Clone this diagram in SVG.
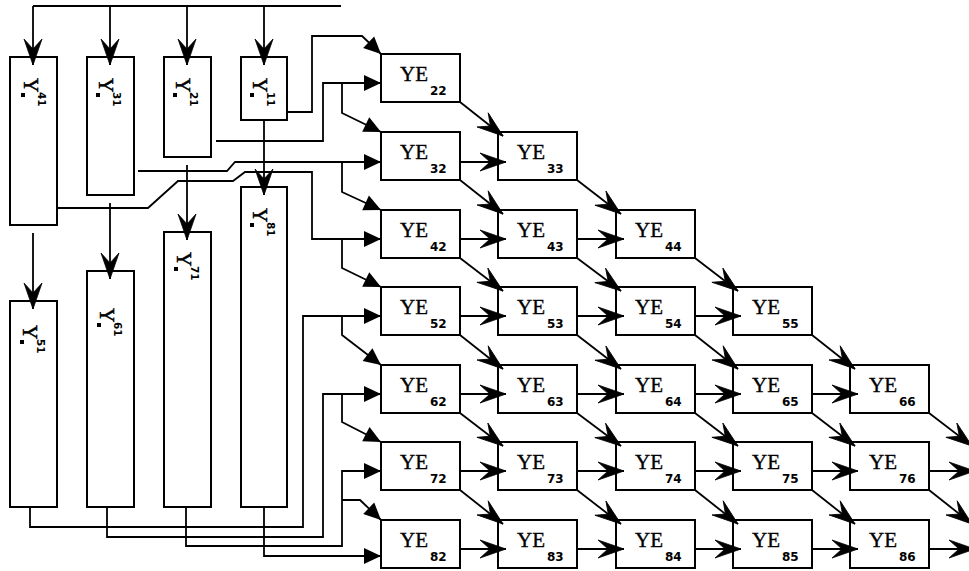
<svg xmlns="http://www.w3.org/2000/svg" width="969" height="571" viewBox="0 0 969 571">
<style>
.box{fill:#fff;stroke:#000;stroke-width:2}
.c{fill:none;stroke:#000;stroke-width:1.8}
.b{marker-end:url(#barb)}
.t{marker-end:url(#tri)}
.ye{font-family:"Liberation Serif",serif;font-size:21px;fill:#000;stroke:#000;stroke-width:0.35}
.sub{font-family:"DejaVu Sans",sans-serif;font-weight:bold;font-size:12px;fill:#000}
.y{font-family:"Liberation Serif",serif;font-size:20px;fill:#000;stroke:#000;stroke-width:0.5}
.sup{font-family:"DejaVu Sans",sans-serif;font-weight:bold;font-size:10.5px;fill:#000}
</style>
<defs>
<marker id="barb" markerUnits="userSpaceOnUse" viewBox="-28 -11 30 22" refX="0" refY="0" markerWidth="30" markerHeight="22" orient="auto" overflow="visible">
<path d="M0,0 L-26,-9 L-16,0 L-26,9Z" fill="#000" stroke="#000" stroke-width="0.8" stroke-linejoin="miter"/>
</marker>
<marker id="tri" markerUnits="userSpaceOnUse" viewBox="-18 -9 19 18" refX="0" refY="0" markerWidth="19" markerHeight="18" orient="auto" overflow="visible">
<path d="M0,0 L-17,-8 L-17,8Z" fill="#000"/>
</marker>
</defs>

<g id="Y41"><rect class="box" x="10" y="57" width="47" height="168"/><g transform="translate(24,78) rotate(90)"><text class="y" x="0" y="0">Y</text><rect x="15" y="-1" width="4" height="4"/><text class="sup" x="14" y="-14">41</text></g></g>
<g id="Y31"><rect class="box" x="87" y="57" width="47" height="138"/><g transform="translate(99,78) rotate(90)"><text class="y" x="0" y="0">Y</text><rect x="15" y="-1" width="4" height="4"/><text class="sup" x="14" y="-14">31</text></g></g>
<g id="Y21"><rect class="box" x="164" y="57" width="47" height="100"/><g transform="translate(176,78) rotate(90)"><text class="y" x="0" y="0">Y</text><rect x="15" y="-1" width="4" height="4"/><text class="sup" x="14" y="-14">21</text></g></g>
<g id="Y11"><rect class="box" x="241" y="57" width="46" height="63"/><g transform="translate(253,78) rotate(90)"><text class="y" x="0" y="0">Y</text><rect x="15" y="-1" width="4" height="4"/><text class="sup" x="14" y="-14">11</text></g></g>
<g id="Y51"><rect class="box" x="10" y="301" width="47" height="206"/><g transform="translate(23,325) rotate(90)"><text class="y" x="0" y="0">Y</text><rect x="15" y="-1" width="4" height="4"/><text class="sup" x="14" y="-14">51</text></g></g>
<g id="Y61"><rect class="box" x="87" y="271" width="47" height="236"/><g transform="translate(100,308) rotate(90)"><text class="y" x="0" y="0">Y</text><rect x="15" y="-1" width="4" height="4"/><text class="sup" x="14" y="-14">61</text></g></g>
<g id="Y71"><rect class="box" x="164" y="232" width="47" height="275"/><g transform="translate(177,252) rotate(90)"><text class="y" x="0" y="0">Y</text><rect x="15" y="-1" width="4" height="4"/><text class="sup" x="14" y="-14">71</text></g></g>
<g id="Y81"><rect class="box" x="241" y="187" width="46" height="320"/><g transform="translate(253,208) rotate(90)"><text class="y" x="0" y="0">Y</text><rect x="15" y="-1" width="4" height="4"/><text class="sup" x="14" y="-14">81</text></g></g>

<g id="YE22"><rect class="box" x="381" y="54" width="79" height="48"/><text class="ye" x="400" y="81">YE</text><text class="sub" x="430" y="95">22</text></g>
<g id="YE32"><rect class="box" x="381" y="132" width="79" height="48"/><text class="ye" x="400" y="159">YE</text><text class="sub" x="430" y="173">32</text></g>
<g id="YE33"><rect class="box" x="498" y="132" width="79" height="48"/><text class="ye" x="517" y="159">YE</text><text class="sub" x="547" y="173">33</text></g>
<g id="YE42"><rect class="box" x="381" y="210" width="79" height="48"/><text class="ye" x="400" y="237">YE</text><text class="sub" x="430" y="251">42</text></g>
<g id="YE43"><rect class="box" x="498" y="210" width="79" height="48"/><text class="ye" x="517" y="237">YE</text><text class="sub" x="547" y="251">43</text></g>
<g id="YE44"><rect class="box" x="616" y="210" width="79" height="48"/><text class="ye" x="635" y="237">YE</text><text class="sub" x="665" y="251">44</text></g>
<g id="YE52"><rect class="box" x="381" y="287" width="79" height="48"/><text class="ye" x="400" y="314">YE</text><text class="sub" x="430" y="328">52</text></g>
<g id="YE53"><rect class="box" x="498" y="287" width="79" height="48"/><text class="ye" x="517" y="314">YE</text><text class="sub" x="547" y="328">53</text></g>
<g id="YE54"><rect class="box" x="616" y="287" width="79" height="48"/><text class="ye" x="635" y="314">YE</text><text class="sub" x="665" y="328">54</text></g>
<g id="YE55"><rect class="box" x="733" y="287" width="79" height="48"/><text class="ye" x="752" y="314">YE</text><text class="sub" x="782" y="328">55</text></g>
<g id="YE62"><rect class="box" x="381" y="365" width="79" height="48"/><text class="ye" x="400" y="392">YE</text><text class="sub" x="430" y="406">62</text></g>
<g id="YE63"><rect class="box" x="498" y="365" width="79" height="48"/><text class="ye" x="517" y="392">YE</text><text class="sub" x="547" y="406">63</text></g>
<g id="YE64"><rect class="box" x="616" y="365" width="79" height="48"/><text class="ye" x="635" y="392">YE</text><text class="sub" x="665" y="406">64</text></g>
<g id="YE65"><rect class="box" x="733" y="365" width="79" height="48"/><text class="ye" x="752" y="392">YE</text><text class="sub" x="782" y="406">65</text></g>
<g id="YE66"><rect class="box" x="850" y="365" width="79" height="48"/><text class="ye" x="869" y="392">YE</text><text class="sub" x="899" y="406">66</text></g>
<g id="YE72"><rect class="box" x="381" y="442" width="79" height="48"/><text class="ye" x="400" y="469">YE</text><text class="sub" x="430" y="483">72</text></g>
<g id="YE73"><rect class="box" x="498" y="442" width="79" height="48"/><text class="ye" x="517" y="469">YE</text><text class="sub" x="547" y="483">73</text></g>
<g id="YE74"><rect class="box" x="616" y="442" width="79" height="48"/><text class="ye" x="635" y="469">YE</text><text class="sub" x="665" y="483">74</text></g>
<g id="YE75"><rect class="box" x="733" y="442" width="79" height="48"/><text class="ye" x="752" y="469">YE</text><text class="sub" x="782" y="483">75</text></g>
<g id="YE76"><rect class="box" x="850" y="442" width="79" height="48"/><text class="ye" x="869" y="469">YE</text><text class="sub" x="899" y="483">76</text></g>
<g id="YE82"><rect class="box" x="381" y="520" width="79" height="48"/><text class="ye" x="400" y="547">YE</text><text class="sub" x="430" y="561">82</text></g>
<g id="YE83"><rect class="box" x="498" y="520" width="79" height="48"/><text class="ye" x="517" y="547">YE</text><text class="sub" x="547" y="561">83</text></g>
<g id="YE84"><rect class="box" x="616" y="520" width="79" height="48"/><text class="ye" x="635" y="547">YE</text><text class="sub" x="665" y="561">84</text></g>
<g id="YE85"><rect class="box" x="733" y="520" width="79" height="48"/><text class="ye" x="752" y="547">YE</text><text class="sub" x="782" y="561">85</text></g>
<g id="YE86"><rect class="box" x="850" y="520" width="79" height="48"/><text class="ye" x="869" y="547">YE</text><text class="sub" x="899" y="561">86</text></g>

<g id="connectors">
<path class="c" d="M33,6 H341"/>
<path class="c b" d="M33,6 V65"/>
<path class="c b" d="M110,6 V65"/>
<path class="c b" d="M187,6 V65"/>
<path class="c b" d="M264,6 V65"/>
<path class="c b" d="M33,233 V309"/>
<path class="c b" d="M110,203 V279"/>
<path class="c b" d="M187,165 V240"/>
<path class="c b" d="M264,120 V195"/>

<path class="c t" d="M287,112 H312 V36 H362 L381,54"/>
<path class="c t" d="M216,141 H323 V83 H381"/>
<path class="c t" d="M342,83 V113 L381,132"/>
<path class="c t" d="M138,171 H227 L235,162 H381"/>
<path class="c t" d="M342,162 V192 L381,210"/>
<path class="c t" d="M57,208 H148 L178,181 H233 L245,172 H312 V239 H381"/>
<path class="c t" d="M342,239 V268 L381,287"/>
<path class="c t" d="M30,507 V527 H303 V316 H381"/>
<path class="c t" d="M342,316 V335 L381,365"/>
<path class="c t" d="M107,507 V537 H323 V394 H381"/>
<path class="c t" d="M342,394 V422 L381,442"/>
<path class="c t" d="M186,507 V546 H342 V471 H381"/>
<path class="c t" d="M342,500 H360 L381,520"/>
<path class="c t" d="M264,507 V556 H381"/>

<path class="c b" d="M460,162 H506"/>
<path class="c b" d="M460,239 H506"/>
<path class="c b" d="M577,239 H624"/>
<path class="c b" d="M460,316 H506"/>
<path class="c b" d="M577,316 H624"/>
<path class="c b" d="M695,316 H741"/>
<path class="c b" d="M460,394 H506"/>
<path class="c b" d="M577,394 H624"/>
<path class="c b" d="M695,394 H741"/>
<path class="c b" d="M812,394 H858"/>
<path class="c b" d="M460,471 H506"/>
<path class="c b" d="M577,471 H624"/>
<path class="c b" d="M695,471 H741"/>
<path class="c b" d="M812,471 H858"/>
<path class="c b" d="M929,471 H975"/>
<path class="c b" d="M460,549 H506"/>
<path class="c b" d="M577,549 H624"/>
<path class="c b" d="M695,549 H741"/>
<path class="c b" d="M812,549 H858"/>
<path class="c b" d="M929,549 H975"/>

<path class="c b" d="M460,102 L503,136"/>
<path class="c b" d="M460,180 L503,214"/>
<path class="c b" d="M577,180 L621,214"/>
<path class="c b" d="M460,258 L503,291"/>
<path class="c b" d="M577,258 L621,291"/>
<path class="c b" d="M695,258 L738,291"/>
<path class="c b" d="M460,335 L503,369"/>
<path class="c b" d="M577,335 L621,369"/>
<path class="c b" d="M695,335 L738,369"/>
<path class="c b" d="M812,335 L855,369"/>
<path class="c b" d="M460,413 L503,446"/>
<path class="c b" d="M577,413 L621,446"/>
<path class="c b" d="M695,413 L738,446"/>
<path class="c b" d="M812,413 L855,446"/>
<path class="c b" d="M929,413 L972,446"/>
<path class="c b" d="M460,490 L503,524"/>
<path class="c b" d="M577,490 L621,524"/>
<path class="c b" d="M695,490 L738,524"/>
<path class="c b" d="M812,490 L855,524"/>
<path class="c b" d="M929,490 L972,524"/>
</g>
</svg>
